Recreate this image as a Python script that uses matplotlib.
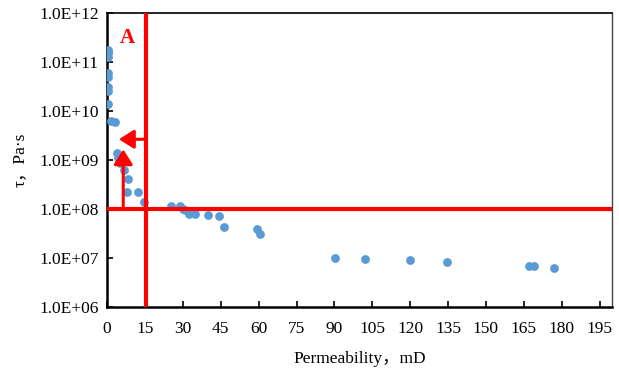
import matplotlib
matplotlib.use("Agg")
import matplotlib.pyplot as plt
from matplotlib.patches import FancyArrowPatch
import numpy as np

# Data
permeability = [0.5, 0.5, 0.5, 0.5, 0.5, 0.5, 0.5, 0.5, 0.5, 1.5, 3.3,
                3.8, 4.5, 5.1, 6.7, 8.4, 8.0, 12.4, 14.7,
                25.3, 28.8, 30.2, 30.8, 32.5, 34.8, 40.0, 44.4, 46.3, 59.5, 60.4,
                90.4, 102.3, 120.1, 134.4, 167.1, 169.0, 177.0]
tau = [1.76e11, 1.6e11, 1.5e11, 1.26e11, 5.97e10, 4.9e10, 3.1e10, 2.57e10, 1.38e10, 6.3e9, 5.9e9,
       1.39e9, 1.1e9, 8.7e8, 6.3e8, 4.1e8, 2.2e8, 2.25e8, 1.37e8,
       1.17e8, 1.17e8, 1.02e8, 9.6e7, 8.1e7, 8.1e7, 7.6e7, 7.2e7, 4.3e7, 4.0e7, 3.1e7,
       1.01e7, 9.5e6, 9.0e6, 8.2e6, 6.9e6, 6.9e6, 6.3e6]

x_ticks = [0, 15, 30, 45, 60, 75, 90, 105, 120, 135, 150, 165, 180, 195]
y_ticks = [1e6, 1e7, 1e8, 1e9, 1e10, 1e11, 1e12]
y_ticklabels = ["1.0E+06", "1.0E+07", "1.0E+08", "1.0E+09", "1.0E+10", "1.0E+11", "1.0E+12"]

threshold_perm = 15.3
threshold_tau = 1e8
arrow_left = (threshold_perm, 4.7, 2.65e9)   # x_start, x_end, y
arrow_up = (6.4, 1e8, 1.65e9)                # x, y_start, y_end

fam = ["Liberation Serif", "Noto Sans CJK SC"]
plt.rcParams["font.family"] = fam

fig = plt.figure(figsize=(6.19, 3.70), dpi=100)
ax = fig.add_axes([0.173, 0.170, 0.816, 0.795])

ax.scatter(permeability, tau, s=40, color="#5B9BD5", zorder=3, linewidths=0)

ax.set_yscale("log")
ax.set_xlim(0, 200)
ax.set_ylim(1e6, 1e12)
ax.set_xticks(x_ticks)
ax.set_xticklabels([str(t) for t in x_ticks])
ax.set_yticks(y_ticks)
ax.set_yticklabels(y_ticklabels)
ax.yaxis.set_minor_locator(matplotlib.ticker.NullLocator())
ax.tick_params(direction="in", length=4, width=1.2, labelsize=12.5, colors="black")
ax.tick_params(axis="y", pad=6)
ax.tick_params(axis="x", pad=10)

ax.set_xlabel("Permeability，mD", fontsize=12.5, family=fam, labelpad=10)
ax.set_ylabel("τ，Pa·s", fontsize=12.5, family=fam, labelpad=8)

for side in ["left", "bottom"]:
    ax.spines[side].set_linewidth(1.8)
ax.spines["top"].set_linewidth(1.2)
ax.spines["right"].set_linewidth(1.0)
ax.spines["right"].set_color("#444444")

ax.axvline(threshold_perm, color="red", lw=3, zorder=4)
ax.axhline(threshold_tau, color="red", lw=3, zorder=4)

a1 = FancyArrowPatch((arrow_left[0], arrow_left[2]), (arrow_left[1], arrow_left[2]),
                     arrowstyle="-|>,head_length=0.6,head_width=0.38", mutation_scale=15,
                     color="red", lw=2.2, shrinkA=0, shrinkB=0, zorder=5)
ax.add_patch(a1)
a2 = FancyArrowPatch((arrow_up[0], arrow_up[1]), (arrow_up[0], arrow_up[2]),
                     arrowstyle="-|>,head_length=0.6,head_width=0.38", mutation_scale=15,
                     color="red", lw=2.2, shrinkA=0, shrinkB=0, zorder=5)
ax.add_patch(a2)

ax.text(7.9, 3.1e11, "A", color="red", fontsize=15, fontweight="bold",
        family="Liberation Serif", ha="center", va="center")

fig.savefig("out.png", dpi=100)
